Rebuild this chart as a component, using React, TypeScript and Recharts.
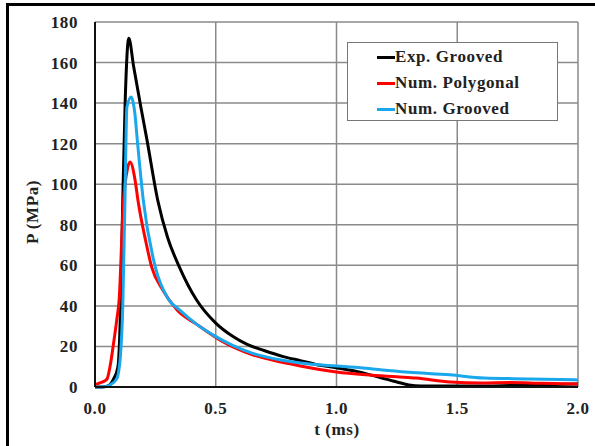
import { CartesianGrid, Line, LineChart, XAxis, YAxis } from "recharts";

// Exp. Grooved
const expT = [0, 0.03, 0.06, 0.075, 0.095, 0.105, 0.115, 0.125, 0.14, 0.16, 0.19, 0.215, 0.26, 0.3, 0.35, 0.42, 0.5, 0.57, 0.63, 0.7, 0.78, 0.85, 0.92, 1.0, 1.07, 1.14, 1.2, 1.25, 1.3, 1.35, 1.45, 1.6, 1.8, 2.0];
const expP = [0, 0, 1, 3.5, 10, 35, 92, 141, 172, 158, 138, 122, 92, 74, 59, 43, 31.5, 25, 21, 18, 15, 13, 11, 9.5, 8, 6, 4, 2.5, 1, 0.5, 0.5, 0.5, 1, 1.5];

// Num. Polygonal
const polyT = [0, 0.02, 0.04, 0.05, 0.065, 0.075, 0.09, 0.1, 0.117, 0.135, 0.145, 0.166, 0.178, 0.21, 0.235, 0.28, 0.34, 0.42, 0.52, 0.65, 0.77, 0.85, 1.0, 1.12, 1.25, 1.33, 1.47, 1.6, 1.72, 1.85, 2.0];
const polyP = [1, 2, 3, 4, 12, 20, 33, 43, 90, 108, 111, 102, 92, 72, 59, 48, 38, 31, 23, 16, 12.3, 10.4, 7.4, 6, 5, 4.4, 2.5, 2, 2.2, 1.8, 1.5];

// Num. Grooved
const groovT = [0, 0.03, 0.062, 0.09, 0.105, 0.115, 0.124, 0.132, 0.15, 0.165, 0.175, 0.2, 0.25, 0.3, 0.35, 0.42, 0.49, 0.57, 0.65, 0.77, 0.85, 1.0, 1.1, 1.19, 1.3, 1.47, 1.61, 1.8, 2.0];
const groovP = [0, 0, 1, 4, 15, 40, 92, 138, 143, 135, 122, 92, 59, 44, 38, 31, 25.6, 20.5, 16.7, 13.3, 11.8, 10.3, 9.5, 8.4, 7.3, 6, 4.4, 4, 3.5];

const xTicks = [0, 0.5, 1, 1.5, 2];
const yTicks = [0, 20, 40, 60, 80, 100, 120, 140, 160, 180];

const series = [
  { name: "Exp. Grooved", color: "#000000", t: expT, p: expP },
  { name: "Num. Polygonal", color: "#ff0000", t: polyT, p: polyP },
  { name: "Num. Grooved", color: "#1aa7ec", t: groovT, p: groovP },
];

const font = "'Liberation Serif', 'Times New Roman', serif";
const tickStyle = { fill: "#222", fontSize: 17, fontWeight: 700, fontFamily: font, letterSpacing: 0.6 };

function LegendBox() {
  return (
    <div
      style={{
        position: "absolute",
        left: 347,
        top: 42,
        width: 211,
        height: 79,
        border: "1px solid #777",
        background: "#fff",
        boxSizing: "border-box",
        paddingTop: 1,
      }}
    >
      {series.map((s) => (
        <div key={s.name} style={{ display: "flex", alignItems: "center", height: 26, paddingLeft: 29 }}>
          <span style={{ width: 18, height: 3, background: s.color, display: "inline-block" }} />
          <span style={{ ...tickStyle, color: "#222", lineHeight: "26px" }}>{s.name}</span>
        </div>
      ))}
    </div>
  );
}

const YTitle = () => (
  <text x={38} y={212} transform="rotate(-90 38 212)" textAnchor="middle" style={tickStyle}>
    P (MPa)
  </text>
);

const XTitle = () => (
  <text x={337} y={435} textAnchor="middle" style={tickStyle}>
    t (ms)
  </text>
);

export default function App() {
  return (
    <div style={{ position: "absolute", left: 0, top: 0, width: 595, height: 446, background: "#fff", overflow: "hidden" }}>
      <div
        style={{
          position: "absolute",
          left: 6,
          top: 3,
          width: 600,
          height: 460,
          borderTop: "3px solid #000",
          borderLeft: "3px solid #000",
        }}
      />
      <div style={{ position: "absolute", left: 0, top: 0 }}>
        <LineChart width={595} height={446} margin={{ top: 22, right: 17, bottom: 0, left: 0 }}>
          <CartesianGrid stroke="#8a8a8a" strokeWidth={1.5} />
          <XAxis
            type="number"
            dataKey="t"
            domain={[0, 2]}
            ticks={xTicks}
            tickFormatter={(v: number) => v.toFixed(1)}
            tickLine={false}
            tickMargin={9}
            height={59}
            axisLine={{ stroke: "#111", strokeWidth: 2 }}
            tick={tickStyle}
            allowDataOverflow
            label={{ content: XTitle }}
          />
          <YAxis
            type="number"
            domain={[0, 180]}
            ticks={yTicks}
            width={95}
            tickLine={false}
            tickMargin={11}
            axisLine={{ stroke: "#111", strokeWidth: 2 }}
            tick={tickStyle}
            label={{ content: YTitle }}
          />
          {series.map((s) => (
            <Line
              key={s.name}
              name={s.name}
              data={s.t.map((t, i) => ({ t, p: s.p[i] }))}
              dataKey="p"
              type="monotone"
              stroke={s.color}
              strokeWidth={3}
              dot={false}
              isAnimationActive={false}
            />
          ))}
        </LineChart>
      </div>
      <LegendBox />
    </div>
  );
}
